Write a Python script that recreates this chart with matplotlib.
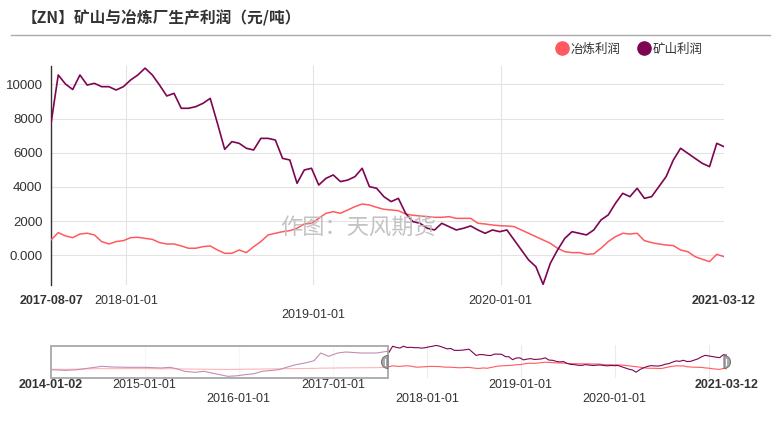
import numpy as np
import pandas as pd
import matplotlib
matplotlib.use('Agg')
import matplotlib.pyplot as plt
from matplotlib.patches import Rectangle, Wedge
from matplotlib.lines import Line2D

plt.rcParams['font.family'] = ['Liberation Sans', 'Noto Sans CJK SC', 'DejaVu Sans']

# ---------------- data ----------------
title = '【ZN】矿山与冶炼厂生产利润（元/吨）'
series_names = ['冶炼利润', '矿山利润']
colors = ['#FF5A5F', '#7D0552']
watermark = '作图：天风期货'

start_date = '2017-08-07'
end_date = '2021-03-12'

mine_profit = [7700, 10550, 10020, 9700, 10550, 9960, 10060, 9865, 9865, 9670,
               9865, 10255, 10550, 10950, 10550, 9960, 9320, 9475, 8600, 8600,
               8695, 8890, 9180, 7720, 6200,
               6650, 6550, 6260, 6160, 6840, 6840, 6745, 5670, 5575, 4210,
               4990, 5090, 4110, 4500, 4700, 4310, 4400, 4600, 5090, 4015,
               3920, 3430, 3140,
               3330, 2455, 1970, 1870, 1580, 1480, 1870, 1675, 1480, 1580,
               1715, 1480, 1285, 1480, 1380, 1480, 895, 310, -275, -665,
               -1700, -470, 310, 990,
               1380, 1285, 1190, 1480, 2065, 2360, 3040, 3625, 3430, 3920,
               3330, 3430, 4015, 4600, 5575, 6260, 5965, 5670, 5380, 5185,
               6550, 6355]

smelter_profit = [895, 1325, 1130, 1030, 1245, 1290, 1190, 800, 660, 800,
                  855, 1030, 1050, 990, 930, 740, 660, 660, 545, 410,
                  410, 505, 545, 310, 115,
                  115, 310, 155, 500, 800, 1190, 1285, 1380, 1440, 1580,
                  1830, 1870, 2160, 2455, 2550, 2455, 2650, 2845, 3000, 2940,
                  2805, 2690, 2650,
                  2610, 2415, 2340, 2300, 2260, 2220, 2220, 2260, 2160, 2160,
                  2160, 1870, 1830, 1770, 1730, 1715, 1675, 1480, 1285, 1090,
                  895, 700, 410, 210,
                  155, 155, 55, 80, 410, 800, 1090, 1285, 1245, 1285,
                  855, 740, 660, 600, 565, 310, 210, -80, -235, -370,
                  55, -80]

early_dates = ['2014-01-02', '2014-03-01', '2014-04-15', '2014-06-20', '2014-07-20',
               '2014-08-25', '2014-10-25', '2014-12-31', '2015-03-05', '2015-04-10',
               '2015-05-10', '2015-06-05', '2015-07-15', '2015-08-20', '2015-09-15',
               '2015-10-20', '2015-11-20', '2015-12-25', '2016-01-25', '2016-03-01',
               '2016-04-01', '2016-05-10', '2016-06-05', '2016-07-05', '2016-08-10',
               '2016-09-15', '2016-10-20', '2016-11-15', '2016-12-15', '2017-01-20',
               '2017-02-20', '2017-04-20', '2017-06-20', '2017-07-31']
early_mine = [-520, -830, -520, 610, 1085, 755, 610, 610, 280, 610,
              -240, -1290, -1760, -1290, -2000, -2870, -3650, -3400, -2870, -2400,
              -1290, -830, -520, 610, 1840, 2640, 3730, 7360, 5800, 7360,
              7835, 7360, 7360, 8170]
early_smelter = [-300, -350, -250, -100, 0, -50, 0, 0, -100, -50,
                 -150, -200, -250, -300, -300, -350, -400, -350, -300, -300,
                 -250, -200, -150, -100, 0, 50, 100, 200, 250, 300,
                 350, 400, 450, 600]

y_ticks = [10000, 8000, 6000, 4000, 2000, 0]
y_ticklabels = ['10000', '8000', '6000', '4000', '2000', '0.000']
main_xticks = ['2017-08-07', '2018-01-01', '2019-01-01', '2020-01-01', '2021-03-12']
main_xlabels = ['2017-08-07', '2018-01-01', '\n2019-01-01', '2020-01-01', '2021-03-12']
main_grid_years = ['2018-01-01', '2019-01-01', '2020-01-01']
ov_start = '2014-01-02'
ov_xticks = ['2014-01-02', '2015-01-01', '2016-01-01', '2017-01-01', '2018-01-01',
             '2019-01-01', '2020-01-01', '2021-03-12']
ov_xlabels = ['2014-01-02', '2015-01-01', '\n2016-01-01', '2017-01-01', '\n2018-01-01',
              '2019-01-01', '\n2020-01-01', '2021-03-12']
ov_grid_years = ['2015-01-01', '2016-01-01', '2017-01-01', '2018-01-01',
                 '2019-01-01', '2020-01-01', '2021-01-01']

# ---------------- figure ----------------
W, H = 779, 425
fig = plt.figure(figsize=(W / 100, H / 100), dpi=100)
fig.patch.set_facecolor('white')


def rect(l, t, r, b):
    return [l / W, 1 - b / H, (r - l) / W, (b - t) / H]


main_dates = pd.date_range(start_date, end_date, periods=len(mine_profit))

ax = fig.add_axes(rect(51, 66, 724, 285))
ax.plot(main_dates, smelter_profit, color=colors[0], lw=1.1, zorder=3)
ax.plot(main_dates, mine_profit, color=colors[1], lw=1.2, zorder=4)
ax.set_xlim(pd.Timestamp(start_date), pd.Timestamp(end_date))
ax.set_ylim(-1740, 11075)
ax.set_yticks(y_ticks)
ax.set_yticklabels(y_ticklabels)
ax.yaxis.grid(True, color='#e3e3e3', lw=0.8)
for d in main_grid_years:
    ax.axvline(pd.Timestamp(d), color='#e3e3e3', lw=0.8, zorder=1)
ax.set_xticks(pd.to_datetime(main_xticks))
ax.set_xticklabels(main_xlabels)
ax.tick_params(axis='y', length=0, pad=6, labelsize=9.5, labelcolor='#333333')
ax.tick_params(axis='x', length=0, pad=7, labelsize=9, labelcolor='#333333')
xl = ax.get_xticklabels()
for i in (0, len(xl) - 1):
    xl[i].set_fontweight('bold')
for s in ('top', 'right', 'bottom'):
    ax.spines[s].set_visible(False)
ax.spines['left'].set_color('#333333')
ax.spines['left'].set_linewidth(1.0)
ax.set_axisbelow(True)

# ---------------- overview (slider) ----------------
ov = fig.add_axes(rect(51, 345, 727, 378))
ov_dates = list(pd.to_datetime(early_dates)) + list(main_dates)
ov.plot(ov_dates, early_smelter + smelter_profit, color=colors[0], lw=0.8)
ov.plot(ov_dates, early_mine + mine_profit, color=colors[1], lw=0.8)
ov.set_xlim(pd.Timestamp(ov_start), pd.Timestamp(end_date))
ov.set_ylim(-4440, 11140)
for d in ov_grid_years:
    ov.axvline(pd.Timestamp(d), color='#ececec', lw=0.8, zorder=0)
ov.set_yticks([])
ov.set_xticks(pd.to_datetime(ov_xticks))
ov.set_xticklabels(ov_xlabels)
ov.tick_params(axis='x', length=0, pad=1, labelsize=9, labelcolor='#333333')
ol = ov.get_xticklabels()
for i in (0, len(ol) - 1):
    ol[i].set_fontweight('bold')
for s in ov.spines.values():
    s.set_visible(False)
ov.patch.set_alpha(0)

# ---------------- overlay (UI elements in pixel coords) ----------------
ui = fig.add_axes([0, 0, 1, 1])
ui.set_xlim(0, W)
ui.set_ylim(H, 0)
ui.axis('off')
ui.patch.set_alpha(0)

ui.add_patch(Rectangle((51, 346), 337, 32, facecolor='white', alpha=0.55,
                       edgecolor='none'))
ui.add_patch(Rectangle((51, 346), 337, 32, facecolor='none',
                       edgecolor='#a8a8a8', lw=1.3))
ui.add_patch(Wedge((388, 362), 6.5, 90, 270, facecolor='#a9a9a9', edgecolor='#777777', lw=0.8))
ui.add_patch(Wedge((724, 362), 6.5, -90, 90, facecolor='#a9a9a9', edgecolor='#777777', lw=0.8))
ui.plot([385.5, 385.5], [359, 365], color='white', lw=0.8)
ui.plot([726.5, 726.5], [359, 365], color='white', lw=0.8)

# title and separator
fig.text(22 / W, 1 - 18 / H, title, fontsize=11.3, fontweight='bold', color='#333333',
         va='center', ha='left', family=['Noto Sans CJK SC', 'DejaVu Sans'])
ui.plot([11, 770], [35, 35], color='#aaaaaa', lw=1.0)

# legend
handles = [Line2D([], [], marker='o', ls='', color=c, markersize=9.5) for c in colors]
leg = fig.legend(handles, series_names, loc='center', bbox_to_anchor=(629 / W, 1 - 49 / H),
                 ncol=2, frameon=False, handletextpad=0.2, columnspacing=1.4,
                 handlelength=1.0, prop={'family': ['Noto Sans CJK SC'], 'size': 9})
for t in leg.get_texts():
    t.set_color('#333333')

# watermark
fig.text(358 / W, 1 - 228 / H, watermark, fontsize=16, color='#bdbdbd', alpha=0.9,
         ha='center', va='center', family=['Noto Sans CJK SC'])

fig.savefig('out.png', dpi=100, facecolor='white')
